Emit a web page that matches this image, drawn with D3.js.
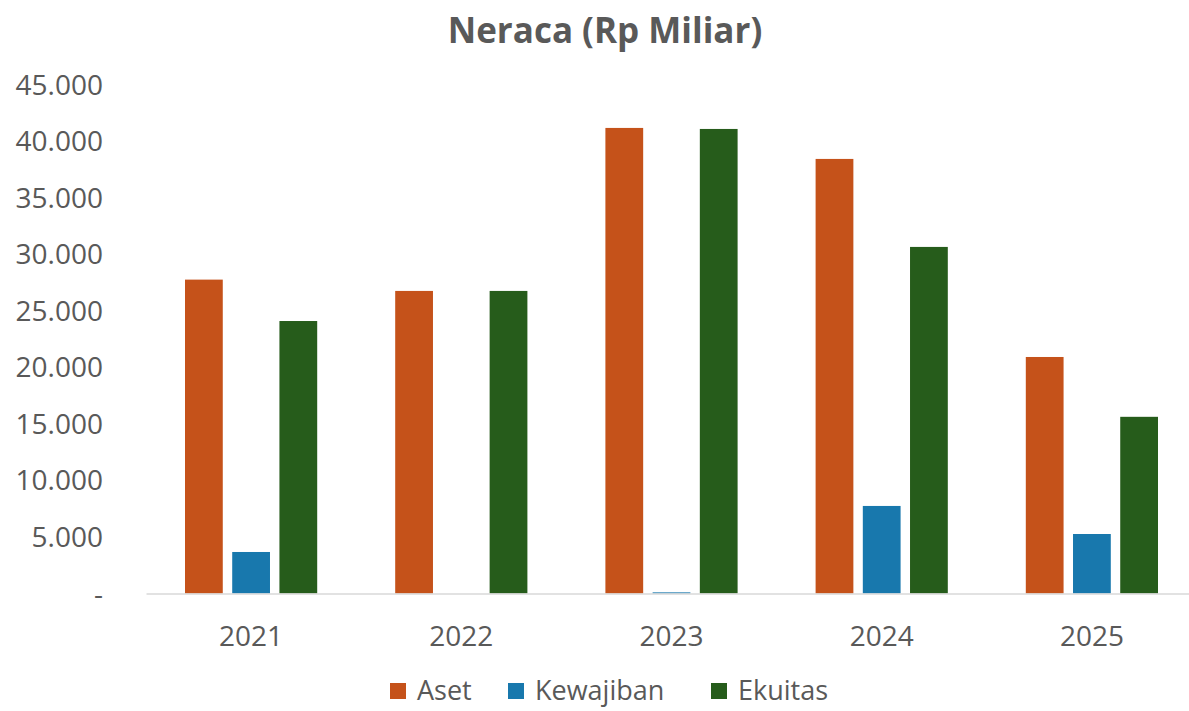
<!DOCTYPE html>
<html>
<head>
<meta charset="utf-8">
<script src="https://cdn.jsdelivr.net/npm/d3@7/dist/d3.min.js"></script>
<style>
  html, body { margin: 0; padding: 0; background: #ffffff; }
  svg { display: block; font-family: "Open Sans", "Noto Sans", sans-serif; }
</style>
</head>
<body>
<svg id="chart" width="1189" height="711"></svg>
<script>
// Balance sheet figures, Rp billions
const years = ["2021", "2022", "2023", "2024", "2025"];
const seriesNames = ["Aset", "Kewajiban", "Ekuitas"];
const aset      = [27750, 26750, 41160, 38420, 20910];
const kewajiban = [3670, 0, 100, 7740, 5260];
const ekuitas   = [24090, 26750, 41070, 30640, 15620];
const yTicks = [0, 5000, 10000, 15000, 20000, 25000, 30000, 35000, 40000, 45000];
const colors = ["#C5521A", "#1878AD", "#265C1B"];
const title = "Neraca (Rp Miliar)";

const values = [aset, kewajiban, ekuitas];
const rows = years.map((yr, i) => ({
  year: yr,
  items: seriesNames.map((s, j) => ({ key: s, value: values[j][i] }))
}));

const svg = d3.select("#chart");
const margin = { top: 84.5, right: -8, bottom: 117.5, left: 146 };
const W = 1189, H = 711;
const plotW = W - margin.left - margin.right;
const plotH = H - margin.top - margin.bottom;
const textColor = "#595959";
const fontFamily = "'Open Sans', 'Noto Sans', sans-serif";

const x0 = d3.scaleBand().domain(years).range([0, plotW]).paddingInner(0).paddingOuter(0);
const x1 = d3.scaleBand().domain(seriesNames).range([39, x0.bandwidth() - 39]).paddingInner(0.2).paddingOuter(0);
const y = d3.scaleLinear().domain([0, 45000]).range([plotH, 0]);
const color = d3.scaleOrdinal().domain(seriesNames).range(colors);

const g = svg.append("g").attr("transform", `translate(${margin.left},${margin.top})`);

// title
svg.append("text")
  .attr("x", 605).attr("y", 43)
  .attr("text-anchor", "middle")
  .attr("font-size", 35).attr("font-weight", 700)
  .attr("fill", textColor)
  .text(title);

// y axis labels (zero shown as a dash)
const fmt = v => v === 0 ? "-" : d3.format(",")(v).replace(/,/g, ".");
const yAxis = d3.axisLeft(y).tickValues(yTicks).tickSize(0).tickPadding(0).tickFormat(fmt);
const yg = g.append("g").attr("transform", "translate(-43,0)").call(yAxis);
yg.select(".domain").remove();
yg.selectAll("text").attr("font-size", 28).attr("fill", textColor)
  .attr("font-family", fontFamily).attr("dy", "0.34em");

// bars
const groups = g.selectAll("g.year").data(rows).join("g")
  .attr("class", "year")
  .attr("transform", d => `translate(${x0(d.year)},0)`);
groups.selectAll("rect").data(d => d.items).join("rect")
  .attr("x", d => x1(d.key))
  .attr("width", x1.bandwidth())
  .attr("y", d => y(d.value))
  .attr("height", d => plotH - y(d.value))
  .attr("fill", d => color(d.key));

// x axis with baseline
const xAxis = d3.axisBottom(x0).tickSize(0).tickPadding(33);
const xg = g.append("g").attr("transform", `translate(0,${plotH})`).call(xAxis);
xg.select(".domain").attr("stroke", "#d9d9d9").attr("stroke-width", 1.5);
xg.selectAll("text").attr("font-size", 28).attr("fill", textColor)
  .attr("font-family", fontFamily);

// legend
const legendItems = [
  { key: "Aset", x: 390 },
  { key: "Kewajiban", x: 508 },
  { key: "Ekuitas", x: 711 }
];
const lg = svg.append("g").attr("transform", "translate(0,691)");
const li = lg.selectAll("g").data(legendItems).join("g")
  .attr("transform", d => `translate(${d.x},0)`);
li.append("rect").attr("x", 0).attr("y", -8).attr("width", 16).attr("height", 16)
  .attr("fill", d => color(d.key));
li.append("text").attr("x", 27).attr("y", 0).attr("dy", "0.35em")
  .attr("font-size", 27).attr("fill", textColor)
  .text(d => d.key);
</script>
</body>
</html>
